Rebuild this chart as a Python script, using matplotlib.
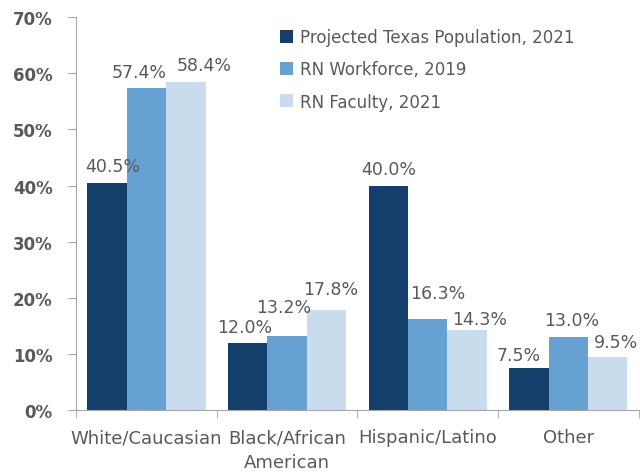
import numpy as np
import matplotlib.pyplot as plt

categories = ['White/Caucasian', 'Black/African\nAmerican', 'Hispanic/Latino', 'Other']
series_names = ['Projected Texas Population, 2021', 'RN Workforce, 2019', 'RN Faculty, 2021']
population = [40.5, 12.0, 40.0, 7.5]
workforce = [57.4, 13.2, 16.3, 13.0]
faculty = [58.4, 17.8, 14.3, 9.5]
colors = ['#153f6b', '#67a1d1', '#c9dcee']
text_color = '#595959'

# label nudges in pixels (the original labels were moved by hand), per series then category
label_dx = [[6, -3, 0, -10], [-7, -3, 10, 3], [18, 4, 12, 8]]
label_dy = [[12, 11, 12, 8], [11, 24, 21, 12], [12, 16, 6, 10]]

plt.rcParams['font.family'] = ['DejaVu Sans']

fig = plt.figure(figsize=(6.4, 4.77), dpi=100)
ax = fig.add_axes([0.119, 0.138, 0.879, 0.824])

x = np.arange(len(categories))
w = 0.28
for i, vals in enumerate([population, workforce, faculty]):
    pos = x + (i - 1) * w
    ax.bar(pos, vals, width=w, color=colors[i], label=series_names[i])
    for j, (p, v) in enumerate(zip(pos, vals)):
        ax.annotate(f'{v:.1f}%', (p, v), xytext=(label_dx[i][j] * 0.72, label_dy[i][j] * 0.72),
                    textcoords='offset points', ha='center', va='baseline',
                    fontsize=12.5, color=text_color)

ax.set_xlim(-0.5, 3.5)
ax.set_ylim(0, 70)
ax.set_yticks(range(0, 71, 10))
ax.set_yticklabels([f'{t}%' for t in range(0, 71, 10)], fontsize=12, color=text_color,
                   fontweight='bold')
ax.set_xticks(x)
ax.set_xticklabels(categories, fontsize=13, color=text_color, linespacing=1.45)
ax.tick_params(axis='x', length=0, pad=13)
ax.set_xticks([-0.5, 0.5, 1.5, 2.5, 3.5], minor=True)
ax.tick_params(axis='x', which='minor', length=6, color='#a6a6a6')
ax.tick_params(axis='y', length=6, color='#a6a6a6', pad=11)
for s in ['top', 'right']:
    ax.spines[s].set_visible(False)
for s in ['left', 'bottom']:
    ax.spines[s].set_color('#a6a6a6')

leg = ax.legend(loc='upper left', bbox_to_anchor=(0.335, 1.01), frameon=False,
                prop={'size': 12}, handlelength=0.8, handleheight=0.8,
                labelspacing=0.85, handletextpad=0.45)
for t in leg.get_texts():
    t.set_color(text_color)

fig.savefig('out.png', dpi=100)
